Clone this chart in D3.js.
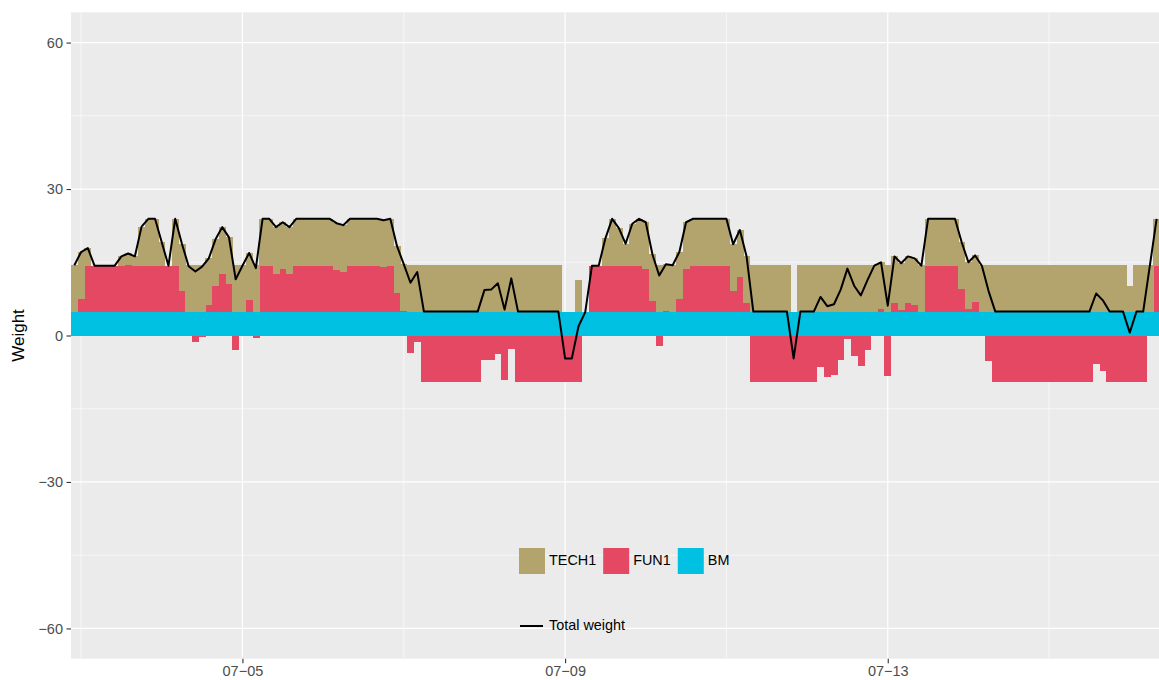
<!DOCTYPE html>
<html>
<head>
<meta charset="utf-8">
<script src="https://cdn.jsdelivr.net/npm/d3@7"></script>
<style>
  body { margin: 0; background: #fff; }
  text { font-family: "Liberation Sans", Arial, Helvetica, sans-serif; }
</style>
</head>
<body>
<div id="container"></div>
<script>
/* CONSTANTS AND GLOBALS */
const width = 1159,
  height = 680,
  panel = {left: 71, right: 1160, top: 12.3, bottom: 658.7};

const seriesKeys = ["bm", "fun1", "tech1"];
const legendItems = [{key: "tech1", text: "TECH1", color: "#B3A36D"},
                     {key: "fun1", text: "FUN1", color: "#E54862"},
                     {key: "bm", text: "BM", color: "#00C1E2"}];
const lineLabel = "Total weight";

const yTicks = [-60, -30, 0, 30, 60],
  yMinor = [-45, -15, 15, 45];
const xTicks = ["2017-07-05", "2017-07-09", "2017-07-13"],
  xMinor = ["2017-07-03", "2017-07-07", "2017-07-11", "2017-07-15"];

// first bar, one bar every 2 hours
const firstBar = "2017-07-02T22:00:00Z";

// benchmark weight, one row per 24 hours
const bm = [
  4.8, 4.8, 4.8, 4.8, 4.8, 4.8, 4.8, 4.8, 4.8, 4.8, 4.8, 4.8,
  4.8, 4.8, 4.8, 4.8, 4.8, 4.8, 4.8, 4.8, 4.8, 4.8, 4.8, 4.8,
  4.8, 4.8, 4.8, 4.8, 4.8, 4.8, 4.8, 4.8, 4.8, 4.8, 4.8, 4.8,
  4.8, 4.8, 4.8, 4.8, 4.8, 4.8, 4.8, 4.8, 4.8, 4.8, 4.8, 4.8,
  4.8, 4.8, 4.8, 4.8, 4.8, 4.8, 4.8, 4.8, 4.8, 4.8, 4.8, 4.8,
  4.8, 4.8, 4.8, 4.8, 4.8, 4.8, 4.8, 4.8, 4.8, 4.8, 4.8, 4.8,
  4.8, 4.8, 4.8, 4.8, 4.8, 4.8, 4.8, 4.8, 4.8, 4.8, 4.8, 4.8,
  4.8, 4.8, 4.8, 4.8, 4.8, 4.8, 4.8, 4.8, 4.8, 4.8, 4.8, 4.8,
  4.8, 4.8, 4.8, 4.8, 4.8, 4.8, 4.8, 4.8, 4.8, 4.8, 4.8, 4.8,
  4.8, 4.8, 4.8, 4.8, 4.8, 4.8, 4.8, 4.8, 4.8, 4.8, 4.8, 4.8,
  4.8, 4.8, 4.8, 4.8, 4.8, 4.8, 4.8, 4.8, 4.8, 4.8, 4.8, 4.8,
  4.8, 4.8, 4.8, 4.8, 4.8, 4.8, 4.8, 4.8, 4.8, 4.8, 4.8, 4.8,
  4.8, 4.8, 4.8, 4.8, 4.8, 4.8, 4.8, 4.8, 4.8, 4.8, 4.8, 4.8,
  4.8, 4.8, 4.8, 4.8, 4.8, 4.8
];

const fun1 = [
  0, 2.7, 9.5, 9.5, 9.5, 9.5, 9.5, 9.5, 9.6, 9.5, 9.5, 9.5,
  9.5, 9.5, 9.5, 9.5, 4.4, -0.2, -1.3, -0.3, 1.4, 5.3, 7.8, 5.7,
  -2.9, -0.1, 2.5, -0.6, 9.5, 9.5, 7.8, 8.8, 7.8, 9.5, 9.5, 9.5,
  9.5, 9.5, 9.5, 8.6, 8.2, 9.5, 9.5, 9.5, 9.5, 9.5, 9.2, 9.5,
  3.9, 0.2, -3.6, -1.4, -9.5, -9.5, -9.5, -9.5, -9.5, -9.5, -9.5, -9.5,
  -9.5, -5.1, -5.0, -3.7, -9.1, -2.7, -9.5, -9.5, -9.5, -9.5, -9.5, -9.5,
  -9.5, -9.5, -9.5, -9.5, 0, 9.5, 9.5, 9.5, 9.5, 9.5, 9.5, 9.5,
  9.5, 8.8, 2.2, -2.1, 0.2, 0, 2.7, 8.8, 9.5, 9.5, 9.5, 9.5,
  9.5, 9.5, 4.3, 7.2, 1.8, -9.5, -9.5, -9.5, -9.5, -9.5, -9.5, -9.5,
  -9.5, -9.5, -9.5, -6.5, -8.4, -8.0, -5.0, -0.7, -4.2, -6.2, -3.0, -0.1,
  0.6, -8.3, 1.8, 0.4, 1.8, 1.4, -0.1, 9.5, 9.5, 9.5, 9.5, 9.5,
  4.7, 0.6, 2.0, -0.1, -5.3, -9.5, -9.5, -9.5, -9.5, -9.5, -9.5, -9.5,
  -9.5, -9.5, -9.5, -9.5, -9.5, -9.5, -9.5, -9.5, -5.8, -7.2, -9.5, -9.5,
  -9.5, -9.5, -9.5, -9.5, 0, 9.5
];

const tech1 = [
  9.6, 9.6, 3.6, 0, 0, 0, 0, 1.9, 2.4, 1.9, 8.0, 9.6,
  9.6, 4.8, 0, 9.6, 9.6, 9.6, 9.6, 9.6, 9.6, 9.6, 9.6, 9.6,
  9.6, 9.6, 9.6, 9.6, 9.6, 9.6, 9.6, 9.6, 9.6, 9.6, 9.6, 9.6,
  9.6, 9.6, 9.6, 9.6, 9.6, 9.6, 9.6, 9.6, 9.6, 9.6, 9.6, 9.6,
  9.6, 9.6, 9.6, 9.6, 9.6, 9.6, 9.6, 9.6, 9.6, 9.6, 9.6, 9.6,
  9.6, 9.6, 9.6, 9.6, 9.6, 9.6, 9.6, 9.6, 9.6, 9.6, 9.6, 9.6,
  9.6, 0, 0, 6.6, 0, 0, 0, 5.6, 9.6, 7.7, 4.5, 8.6,
  9.6, 9.6, 9.6, 9.6, 9.6, 9.6, 9.6, 9.6, 9.6, 9.6, 9.6, 9.6,
  9.6, 9.6, 9.6, 9.6, 9.6, 9.6, 9.6, 9.6, 9.6, 9.6, 9.6, 0,
  9.6, 9.6, 9.6, 9.6, 9.6, 9.6, 9.6, 9.6, 9.6, 9.6, 9.6, 9.6,
  9.6, 9.6, 9.6, 9.6, 9.6, 9.6, 9.6, 9.6, 9.6, 9.6, 9.6, 9.6,
  9.6, 9.6, 9.6, 9.6, 9.6, 9.6, 9.6, 9.6, 9.6, 9.6, 9.6, 9.6,
  9.6, 9.6, 9.6, 9.6, 9.6, 9.6, 9.6, 9.6, 9.6, 9.6, 9.6, 9.6,
  9.6, 5.3, 9.6, 9.6, 9.6, 9.6
];

/* DATA TABLE */
const t0 = new Date(firstBar);
const data = fun1.map((f, i) => ({
  t: d3.utcHour.offset(t0, 2 * i),
  bm: bm[i],
  fun1: f,
  tech1: tech1[i],
  total: bm[i] + f + tech1[i]
}));

/* SCALES */
const xScale = d3.scaleUtc()
  .domain([d3.utcHour.offset(t0, -1), d3.utcHour.offset(t0, 2 * data.length - 1)])
  .range([panel.left, panel.right]);

const yScale = d3.scaleLinear()
  .domain([-66.2, 66.2])
  .range([panel.bottom, panel.top]);

const colorOf = {};
legendItems.forEach(d => colorOf[d.key] = d.color);

/* SVG */
const svg = d3.select("#container")
  .append("svg")
  .attr("width", width)
  .attr("height", height);

svg.append("defs").append("clipPath")
  .attr("id", "clip")
  .append("rect")
  .attr("x", panel.left).attr("y", panel.top)
  .attr("width", panel.right - panel.left)
  .attr("height", panel.bottom - panel.top);

// panel background
svg.append("rect")
  .attr("x", panel.left).attr("y", panel.top)
  .attr("width", panel.right - panel.left)
  .attr("height", panel.bottom - panel.top)
  .attr("fill", "#EBEBEB");

// grid
const grid = svg.append("g").attr("clip-path", "url(#clip)");
grid.selectAll(".ymin").data(yMinor).join("line")
  .attr("x1", panel.left).attr("x2", panel.right)
  .attr("y1", d => yScale(d)).attr("y2", d => yScale(d))
  .attr("stroke", "#fff").attr("stroke-width", 0.6);
grid.selectAll(".xmin").data(xMinor.map(d => new Date(d + "T00:00:00Z"))).join("line")
  .attr("y1", panel.top).attr("y2", panel.bottom)
  .attr("x1", d => xScale(d)).attr("x2", d => xScale(d))
  .attr("stroke", "#fff").attr("stroke-width", 0.6);
grid.selectAll(".ymaj").data(yTicks).join("line")
  .attr("x1", panel.left).attr("x2", panel.right)
  .attr("y1", d => yScale(d)).attr("y2", d => yScale(d))
  .attr("stroke", "#fff").attr("stroke-width", 1.2);
grid.selectAll(".xmaj").data(xTicks.map(d => new Date(d + "T00:00:00Z"))).join("line")
  .attr("y1", panel.top).attr("y2", panel.bottom)
  .attr("x1", d => xScale(d)).attr("x2", d => xScale(d))
  .attr("stroke", "#fff").attr("stroke-width", 1.2);

/* BARS - stacked, negatives below zero like ggplot */
const stacked = d3.stack()
  .keys(seriesKeys)
  .offset(d3.stackOffsetDiverging)(data);

const bars = svg.append("g").attr("clip-path", "url(#clip)");
stacked.forEach(layer => {
  bars.append("g")
    .attr("fill", colorOf[layer.key])
    .attr("shape-rendering", "crispEdges")
    .selectAll("rect")
    .data(layer.filter(d => d[1] !== d[0]))
    .join("rect")
    .attr("x", d => xScale(d3.utcHour.offset(d.data.t, -1)))
    .attr("width", d => xScale(d3.utcHour.offset(d.data.t, 1)) - xScale(d3.utcHour.offset(d.data.t, -1)) + 0.3)
    .attr("y", d => yScale(Math.max(d[0], d[1])))
    .attr("height", d => Math.abs(yScale(d[0]) - yScale(d[1])));
});

// total weight line
const line = d3.line()
  .x(d => xScale(d.t))
  .y(d => yScale(d.total));

svg.append("path")
  .datum(data)
  .attr("clip-path", "url(#clip)")
  .attr("d", line)
  .attr("fill", "none")
  .attr("stroke", "#000")
  .attr("stroke-width", 2)
  .attr("stroke-linejoin", "round");

/* AXES */
const yAxis = d3.axisLeft(yScale)
  .tickValues(yTicks)
  .tickSize(4.5)
  .tickPadding(3.5);
const gy = svg.append("g")
  .attr("transform", `translate(${panel.left}, 0)`)
  .call(yAxis);

const xAxis = d3.axisBottom(xScale)
  .tickValues(xTicks.map(d => new Date(d + "T00:00:00Z")))
  .tickFormat(d => d3.utcFormat("%m-%d")(d).replace("-", "\u2212"))
  .tickSize(4.5)
  .tickPadding(2.5);
const gx = svg.append("g")
  .attr("transform", `translate(0, ${panel.bottom})`)
  .call(xAxis);

[gx, gy].forEach(g => {
  g.select(".domain").remove();
  g.selectAll(".tick line").attr("stroke", "#333333").attr("stroke-width", 1.1);
  g.selectAll(".tick text")
    .attr("fill", "#4D4D4D")
    .style("font-size", "14.5px")
    .style("font-family", "'Liberation Sans', Arial, sans-serif");
});

// y axis label
svg.append("text")
  .attr("transform", `translate(20, ${yScale(0)}) rotate(-90)`)
  .attr("text-anchor", "middle")
  .attr("dominant-baseline", "middle")
  .style("font-size", "17px")
  .text("Weight");

/* LEGEND - handmade, inside the panel */
let lx = 519;
const keyY = 548, keySize = 26;
legendItems.forEach(d => {
  svg.append("rect")
    .attr("x", lx).attr("y", keyY)
    .attr("width", keySize).attr("height", keySize)
    .attr("fill", d.color);
  const t = svg.append("text")
    .attr("x", lx + keySize + 4)
    .attr("y", keyY + keySize / 2)
    .attr("dominant-baseline", "middle")
    .style("font-size", "14.4px")
    .text(d.text);
  lx += keySize + 4 + t.node().getComputedTextLength() + 7;
});

svg.append("line")
  .attr("x1", 520).attr("x2", 543)
  .attr("y1", 626).attr("y2", 626)
  .attr("stroke", "#000").attr("stroke-width", 2);
svg.append("text")
  .attr("x", 549).attr("y", 626)
  .attr("dominant-baseline", "middle")
  .style("font-size", "14.4px")
  .text(lineLabel);
</script>
</body>
</html>
